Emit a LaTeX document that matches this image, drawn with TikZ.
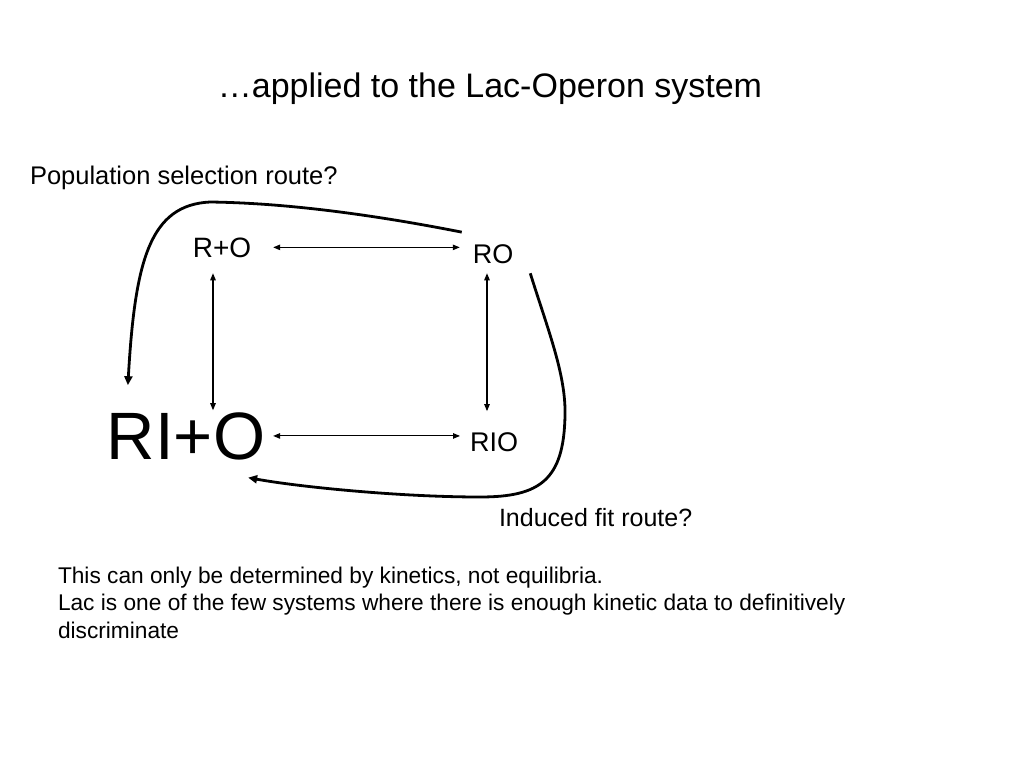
\documentclass[tikz,border=0pt]{standalone}
\usepackage{fontspec}
\setmainfont{Liberation Sans}
\usetikzlibrary{arrows.meta,calc}
\tikzset{
  lbl/.style={inner sep=0pt, outer sep=0pt},
  biarrow/.style={line width=1.1pt, {Triangle[length=7pt,width=5.5pt]}-{Triangle[length=7pt,width=5.5pt]}},
  route/.style={line width=2.8pt, -{Triangle[length=9pt,width=8pt]}},
}
\newcommand{\fs}[1]{\fontsize{#1}{#1}\selectfont}
\begin{document}
\begin{tikzpicture}[x=1pt,y=-1pt]
\useasboundingbox[fill=white] (0,0) rectangle (1024,768);
\node[lbl,anchor=base] (title) at (490,97) {\fs{34}…applied to the Lac-Operon system};
\node[lbl,anchor=base west] (pop) at (30,184) {\fs{25.5}Population selection route?};
\node[lbl,anchor=base] (rpo) at (222,257) {\fs{28}R+O};
\node[lbl,anchor=base] (ro) at (493,263) {\fs{27}RO};
\node[lbl,anchor=base] (ripo) at (186,459) {\fs{67}RI+O};
\node[lbl,anchor=base] (rio) at (494,451) {\fs{27}RIO};
\node[lbl,anchor=base west] (ind) at (499,526) {\fs{25}Induced fit route?};
\node[lbl,anchor=base west] (p1) at (58,583) {\fs{22.7}This can only be determined by kinetics, not equilibria.};
\node[lbl,anchor=base west] (p2) at (58,610.5) {\fs{22.7}Lac is one of the few systems where there is enough kinetic data to definitively};
\node[lbl,anchor=base west] (p3) at (58,638) {\fs{22.7}discriminate};
% reaction arrows
\draw[biarrow] ($(rpo.east)+(22,0)$) -- ($(ro.west |- rpo.east)+(-13,0)$);
\draw[biarrow] ($(ripo.east)+(8,0)$) -- ($(rio.west |- ripo.east)+(-10,0)$);
\draw[biarrow] ($(rpo.south)+(-9,16)$) -- ($(ripo.north -| rpo.south)+(-9,-2)$);
\draw[biarrow] ($(ro.south)+(-6,10)$) -- ($(rio.north -| ro.south)+(-6,-21)$);
% routes
\draw[route] ($(ro.north west)+(-11,-12)$) .. controls (380,216) and (290,203) .. (210,202)
  .. controls (150,205) and (135,260) .. ($(ripo.north west)+(21,-27)$);
\draw[route] ($(ro.south east)+(17,10)$) .. controls (548,330) and (566,375) .. (565,415)
  .. controls (564,480) and (540,497) .. (480,497)
  .. controls (400,497) and (300,487) .. ($(ripo.south east)+(-17,18)$);
\end{tikzpicture}
\end{document}
